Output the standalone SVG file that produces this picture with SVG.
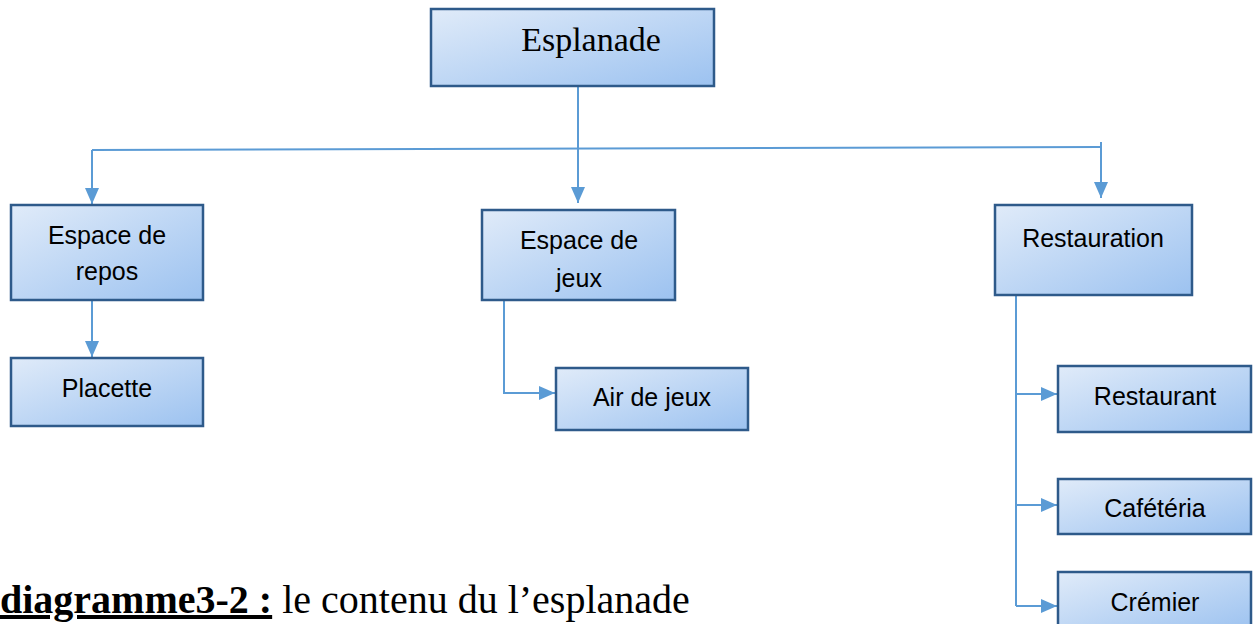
<svg xmlns="http://www.w3.org/2000/svg" width="1257" height="624" viewBox="0 0 1257 624">
<defs>
<linearGradient id="g" x1="0" y1="0" x2="1" y2="1">
<stop offset="0" stop-color="#e0ebf9"/>
<stop offset="1" stop-color="#9cc2f0"/>
</linearGradient>
<marker id="b" markerWidth="16" markerHeight="14" refX="16" refY="7" orient="auto" markerUnits="userSpaceOnUse" viewBox="0 0 16 14">
<path d="M0,0 L16,7 L0,14 Z" fill="#5b9bd5"/>
</marker>
<style>
.box{fill:url(#g);stroke:#2e5a8a;stroke-width:2.5}
.t{font-family:"Liberation Sans",Arial,sans-serif;font-size:25px;fill:#000;text-anchor:middle}
.c{fill:none;stroke:#5b9bd5;stroke-width:2}
</style>
</defs>
<g id="connectors">
<path class="c" d="M578,86 V149"/>
<path class="c" d="M92,150 L1101,147"/>
<path class="c" d="M92,150 V204" marker-end="url(#b)"/>
<path class="c" d="M578,149 V203" marker-end="url(#b)"/>
<path class="c" d="M1101,142 V198" marker-end="url(#b)"/>
<path class="c" d="M92,300 V357" marker-end="url(#b)"/>
<path class="c" d="M504,300 V393 H555" marker-end="url(#b)"/>
<path class="c" d="M1016,295 V606"/>
<path class="c" d="M1016,394 H1057" marker-end="url(#b)"/>
<path class="c" d="M1016,505 H1057" marker-end="url(#b)"/>
<path class="c" d="M1016,606 H1057" marker-end="url(#b)"/>
</g>
<g id="esplanade">
<rect class="box" x="431" y="9" width="283" height="77"/>
<text x="591" y="51" font-family="Liberation Serif,Times New Roman,serif" font-size="34" text-anchor="middle">Esplanade</text>
</g>
<g id="espace-repos">
<rect class="box" x="11" y="205" width="192" height="95"/>
<text class="t" x="107" y="244">Espace de</text>
<text class="t" x="107" y="280">repos</text>
</g>
<g id="placette">
<rect class="box" x="11" y="358" width="192" height="68"/>
<text class="t" x="107" y="397">Placette</text>
</g>
<g id="espace-jeux">
<rect class="box" x="482" y="210" width="193" height="90"/>
<text class="t" x="579" y="249">Espace de</text>
<text class="t" x="579" y="287">jeux</text>
</g>
<g id="air-jeux">
<rect class="box" x="556" y="368" width="192" height="62"/>
<text class="t" x="652" y="406">Air de jeux</text>
</g>
<g id="restauration">
<rect class="box" x="995" y="205" width="197" height="90"/>
<text class="t" x="1093" y="247">Restauration</text>
</g>
<g id="restaurant">
<rect class="box" x="1058" y="366" width="193" height="66"/>
<text class="t" x="1155" y="405">Restaurant</text>
</g>
<g id="cafeteria">
<rect class="box" x="1058" y="479" width="193" height="55"/>
<text class="t" x="1155" y="517">Cafétéria</text>
</g>
<g id="cremier">
<rect class="box" x="1058" y="572" width="193" height="60"/>
<text class="t" x="1155" y="611">Crémier</text>
</g>
<g id="caption">
<text x="0" y="613" font-family="Liberation Serif,Times New Roman,serif" font-size="40"><tspan font-weight="bold" text-decoration="underline">diagramme3-2 :</tspan><tspan> le contenu du l’esplanade</tspan></text>
</g>
</svg>
